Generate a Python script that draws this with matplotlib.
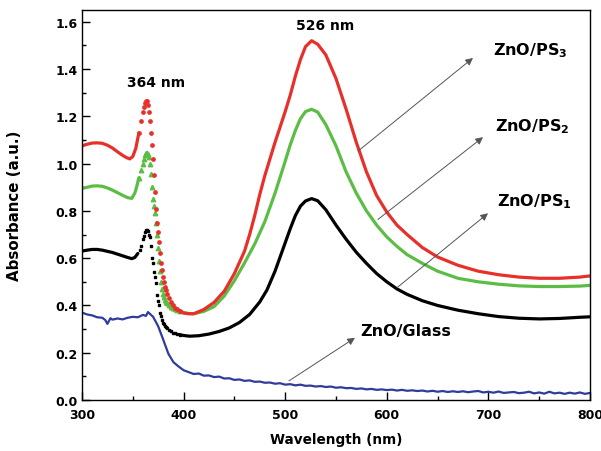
# -*- coding: utf-8 -*-
# UV-vis absorbance spectra of ZnO on glass and on PS templates
import numpy as np
import matplotlib
matplotlib.use('agg')
import matplotlib.pyplot as plt

plt.rcParams['font.family'] = ['DejaVu Sans']
plt.rcParams['mathtext.fontset'] = 'dejavusans'

# ---- data (wavelength in nm, absorbance in a.u.) ----
wl_ps3 = [300, 305, 310, 315, 320, 325, 330, 335, 340, 344, 347, 350, 353, 356, 358,
          360, 361, 362, 363, 364, 365, 366, 367, 368, 369, 370, 371, 372, 373, 374,
          375, 376, 377, 378, 379, 380, 381, 382, 383, 384, 386, 388, 390, 392, 394,
          396, 400, 405, 410, 420, 430, 440, 450, 460, 465, 470, 475, 480, 490, 500,
          505, 510, 515, 520, 526, 532, 540, 550, 560, 570, 580, 590, 600, 610, 620,
          635, 650, 670, 690, 710, 730, 750, 770, 790, 800]
abs_ps3 = [1.075, 1.082, 1.087, 1.088, 1.086, 1.078, 1.066, 1.05, 1.035, 1.025, 1.02, 1.03,
           1.065, 1.13, 1.18,
           1.22, 1.24, 1.255, 1.263, 1.265, 1.25, 1.22, 1.18, 1.13, 1.08, 1.02, 0.95, 0.88,
           0.81, 0.75, 0.71, 0.67, 0.62, 0.58, 0.55, 0.52, 0.50, 0.48, 0.465, 0.45, 0.43,
           0.415, 0.40, 0.39, 0.383, 0.377, 0.368, 0.365, 0.365, 0.383, 0.413, 0.46, 0.535,
           0.63, 0.70, 0.78, 0.87, 0.95, 1.09, 1.22, 1.29, 1.37, 1.44, 1.495, 1.52, 1.505,
           1.46, 1.36, 1.23, 1.09, 0.965, 0.865, 0.795, 0.74, 0.70, 0.645, 0.605, 0.57, 0.545,
           0.53, 0.52, 0.515, 0.515, 0.52, 0.525]

wl_ps2 = [300, 305, 310, 315, 320, 325, 330, 335, 340, 345, 349, 352, 354, 356, 358,
          360, 361, 362, 363, 364, 365, 366, 367, 368, 369, 370, 371, 372, 373, 374,
          375, 376, 377, 378, 379, 380, 381, 382, 383, 384, 386, 388, 390, 392, 394,
          396, 400, 405, 410, 420, 430, 440, 450, 460, 470, 480, 490, 500, 505, 510,
          515, 520, 526, 532, 540, 550, 560, 570, 580, 590, 600, 610, 620, 635, 650,
          670, 690, 710, 730, 750, 770, 790, 800]
abs_ps2 = [0.895, 0.90, 0.905, 0.906, 0.904, 0.897, 0.888, 0.877, 0.866, 0.856, 0.853, 0.875,
           0.905, 0.94, 0.975,
           1.00, 1.02, 1.035, 1.043, 1.044, 1.04, 1.03, 1.00, 0.955, 0.90, 0.85, 0.82, 0.79,
           0.75, 0.70, 0.645, 0.59, 0.545, 0.50, 0.47, 0.45, 0.435, 0.425, 0.415, 0.41,
           0.40, 0.395, 0.39, 0.385, 0.38, 0.377, 0.37, 0.366, 0.365, 0.375, 0.395, 0.44,
           0.505, 0.58, 0.66, 0.755, 0.875, 1.01, 1.08, 1.14, 1.19, 1.22, 1.23, 1.218, 1.165,
           1.075, 0.965, 0.875, 0.80, 0.74, 0.69, 0.65, 0.615, 0.578, 0.545, 0.515, 0.50, 0.49,
           0.483, 0.48, 0.48, 0.482, 0.485]

wl_ps1 = [300, 305, 310, 315, 320, 325, 330, 335, 340, 345, 349, 352, 355, 357, 358,
          360, 361, 362, 363, 364, 365, 366, 367, 368, 369, 370, 371, 372, 373, 374,
          375, 376, 377, 378, 379, 380, 381, 382, 383, 384, 386, 388, 390, 392, 394,
          396, 400, 406, 415, 425, 435, 445, 455, 465, 475, 482, 490, 500, 505, 510,
          515, 520, 526, 532, 540, 550, 560, 570, 580, 590, 600, 610, 620, 635, 650,
          670, 690, 710, 730, 750, 770, 790, 800]
abs_ps1 = [0.63, 0.634, 0.637, 0.637, 0.634, 0.629, 0.624, 0.617, 0.61, 0.603, 0.598, 0.603,
           0.62, 0.635, 0.65,
           0.68, 0.695, 0.71, 0.718, 0.72, 0.715, 0.70, 0.69, 0.65, 0.60, 0.58, 0.54, 0.52,
           0.497, 0.445, 0.42, 0.40, 0.37, 0.355, 0.34, 0.326, 0.32, 0.315, 0.31, 0.305,
           0.298, 0.29, 0.285, 0.282, 0.279, 0.277, 0.273, 0.27, 0.272, 0.279, 0.29, 0.305,
           0.328, 0.362, 0.415, 0.465, 0.545, 0.665, 0.725, 0.78, 0.82, 0.842, 0.852, 0.843,
           0.805, 0.74, 0.68, 0.625, 0.578, 0.535, 0.50, 0.47, 0.447, 0.42, 0.40, 0.38, 0.365,
           0.353, 0.346, 0.343, 0.345, 0.35, 0.352]

wl_glass = [300, 305, 310, 315, 320, 323, 325, 328, 330, 335, 340, 345, 350, 355, 360, 363,
            365, 368, 370, 375, 380, 385, 390, 395, 400, 405, 410, 415, 420, 425, 430, 435,
            440, 445, 450, 455, 460, 465, 470, 475, 480, 485, 490, 495, 500, 505, 510, 515,
            520, 525, 530, 535, 540, 545, 550, 555, 560, 565, 570, 575, 580, 585, 590, 595,
            600, 605, 610, 615, 620, 625, 630, 635, 640, 645, 650, 655, 660, 665, 670, 675,
            680, 685, 690, 695, 700, 705, 710, 715, 720, 725, 730, 735, 740, 745, 750, 755,
            760, 765, 770, 775, 780, 785, 790, 795, 800]
abs_glass = [0.370, 0.362, 0.358, 0.350, 0.348, 0.338, 0.322, 0.346, 0.340, 0.345, 0.341,
             0.348, 0.352, 0.350, 0.360, 0.356, 0.372, 0.360, 0.352, 0.312, 0.255, 0.196,
             0.160, 0.142, 0.126, 0.118, 0.110, 0.112, 0.103, 0.104, 0.097, 0.099, 0.091,
             0.092, 0.085, 0.087, 0.081, 0.083, 0.077, 0.078, 0.073, 0.074, 0.069, 0.071,
             0.065, 0.067, 0.062, 0.065, 0.060, 0.061, 0.057, 0.059, 0.055, 0.057, 0.052,
             0.054, 0.050, 0.051, 0.047, 0.049, 0.045, 0.047, 0.043, 0.045, 0.042, 0.044,
             0.040, 0.043, 0.039, 0.041, 0.038, 0.040, 0.036, 0.039, 0.035, 0.038, 0.034,
             0.037, 0.034, 0.037, 0.033, 0.036, 0.038, 0.032, 0.035, 0.031, 0.036, 0.030,
             0.032, 0.034, 0.029, 0.031, 0.035, 0.028, 0.032, 0.027, 0.035, 0.028, 0.031,
             0.026, 0.031, 0.027, 0.032, 0.026, 0.030]

# steep band-edge region is drawn as separate points, as in the original
dot_lo, dot_hi = 356, 396

fig = plt.figure(figsize=(6.01, 4.52), dpi=100)
ax = fig.add_axes([0.1364, 0.1128, 0.8453, 0.8629])

def draw(wl, a, color, marker, ms):
    wl = np.array(wl)
    a = np.array(a)
    left = wl <= dot_lo
    right = wl >= dot_hi
    mid = (wl >= dot_lo) & (wl <= dot_hi)
    ax.plot(wl[left], a[left], color=color, lw=2.3, solid_capstyle='round')
    ax.plot(wl[right], a[right], color=color, lw=2.3, solid_capstyle='round')
    ax.plot(wl[mid], a[mid], ls='none', marker=marker, ms=ms, color=color, mec=color)

draw(wl_ps1, abs_ps1, 'black', 's', 2.0)
draw(wl_ps2, abs_ps2, '#5cbd45', '^', 3.2)
draw(wl_ps3, abs_ps3, '#e8302a', 'o', 2.4)
ax.plot(wl_glass, abs_glass, color='#2f3c9c', lw=1.6)

ax.set_xlim(300, 800)
ax.set_ylim(0, 1.65)
ax.set_xticks([300, 400, 500, 600, 700, 800])
ax.set_xticks([350, 450, 550, 650, 750], minor=True)
ax.set_yticks([0.0, 0.2, 0.4, 0.6, 0.8, 1.0, 1.2, 1.4, 1.6])
ax.set_yticks(np.arange(0.1, 1.65, 0.2), minor=True)
ax.set_yticklabels(['0.0', '0.2', '0.4', '0.6', '0.8', '1.0', '1.2', '1.4', '1.6'])
ax.tick_params(which='both', direction='in', width=1.0, labelsize=9)
ax.tick_params(which='major', length=5.8)
ax.tick_params(which='minor', length=3.2)
ax.tick_params(axis='x', pad=6)
ax.tick_params(axis='y', pad=3)
for lab in ax.get_xticklabels() + ax.get_yticklabels():
    lab.set_fontweight('bold')
for sp in ax.spines.values():
    sp.set_linewidth(1.0)

ax.set_xlabel('Wavelength (nm)', fontsize=9.8, fontweight='bold')
ax.set_ylabel('Absorbance (a.u.)', fontsize=10.8, fontweight='bold')
ax.xaxis.set_label_coords(0.5, -0.082)
ax.yaxis.set_label_coords(-0.118, 0.5)

# peak labels
ax.text(344, 1.327, '364 nm', fontsize=10, fontweight='bold', ha='left', va='baseline')
ax.text(511, 1.57, '526 nm', fontsize=10, fontweight='bold', ha='left', va='baseline')

# sample labels with arrows
arrow = dict(arrowstyle='-|>', color='#555555', lw=0.7, mutation_scale=11,
             shrinkA=0, shrinkB=0)
ax.annotate('', xy=(684.8, 1.447), xytext=(571.7, 1.053), arrowprops=arrow)
ax.annotate('', xy=(694.7, 1.112), xytext=(591.3, 0.764), arrowprops=arrow)
ax.annotate('', xy=(699.6, 0.79), xytext=(610, 0.475), arrowprops=arrow)
ax.annotate('', xy=(568.7, 0.263), xytext=(503.7, 0.081), arrowprops=arrow)

ax.text(704.5, 1.464, r'ZnO/PS$_{\mathbf{3}}$', fontsize=11.5, fontweight='bold', va='baseline')
ax.text(706.5, 1.142, r'ZnO/PS$_{\mathbf{2}}$', fontsize=11.5, fontweight='bold', va='baseline')
ax.text(708, 0.825, r'ZnO/PS$_{\mathbf{1}}$', fontsize=11.5, fontweight='bold', va='baseline')
ax.text(573.6, 0.276, 'ZnO/Glass', fontsize=11.5, fontweight='bold', va='baseline')

plt.savefig('out.png', dpi=100)
plt.close()
